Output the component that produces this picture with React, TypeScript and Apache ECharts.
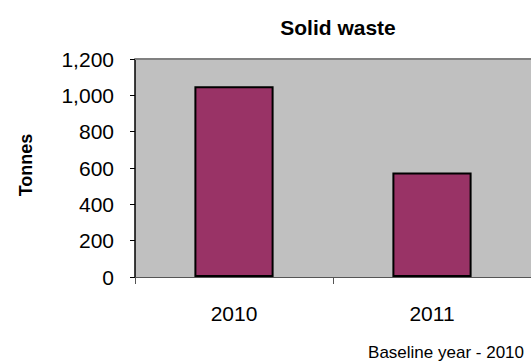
import React, { useEffect, useRef } from "react";
import * as echarts from "echarts";

const categories = ["2010", "2011"];
const values = [1050, 575];
const yTicks = { min: 0, max: 1200, interval: 200 };
const titleText = "Solid waste";
const yName = "Tonnes";
const footnote = "Baseline year - 2010";

const FONT = "'Liberation Sans', Arial, sans-serif";

export default function App() {
  const ref = useRef<HTMLDivElement>(null);
  useEffect(() => {
    if (!ref.current) return;
    const chart = echarts.init(ref.current, null, { renderer: "svg" });
    chart.setOption({
      animation: false,
      backgroundColor: "#ffffff",
      title: {
        text: titleText,
        left: 333,
        top: 12,
        textAlign: "center",
        textStyle: { fontFamily: FONT, fontWeight: "bold", fontSize: 21, color: "#000" },
      },
      grid: { left: 135, right: 0, top: 59, bottom: 85, show: true, backgroundColor: "#c0c0c0", borderWidth: 0 },
      xAxis: {
        type: "category",
        data: categories,
        axisLine: { show: true, lineStyle: { color: "#555555", width: 1 } },
        axisTick: { show: true, length: 7, lineStyle: { color: "#555555" } },
        axisLabel: { margin: 26, fontFamily: FONT, fontSize: 21, color: "#000" },
        splitLine: { show: false },
      },
      yAxis: {
        type: "value",
        min: yTicks.min,
        max: yTicks.max,
        interval: yTicks.interval,
        axisLine: { show: true, lineStyle: { color: "#000000", width: 1.5 } },
        axisTick: { show: true, length: 5, lineStyle: { color: "#000" } },
        axisLabel: {
          margin: 21,
          fontFamily: FONT,
          fontSize: 21,
          color: "#000",
          formatter: (v: number) => v.toLocaleString("en-US"),
        },
        splitLine: { show: false },
      },
      graphic: [
        {
          type: "line",
          shape: { x1: 135, y1: 59, x2: 531, y2: 59 },
          style: { stroke: "#808080", lineWidth: 2 },
          z: 10,
        },
        {
          type: "text",
          x: 26,
          y: 165,
          rotation: Math.PI / 2,
          style: {
            text: yName,
            fontFamily: FONT,
            fontWeight: "bold",
            fontSize: 18,
            fill: "#000",
            textAlign: "center",
            textVerticalAlign: "middle",
          },
        },
        {
          type: "text",
          x: 524,
          y: 352,
          style: {
            text: footnote,
            fontFamily: FONT,
            fontSize: 17,
            fill: "#000",
            textAlign: "right",
            textVerticalAlign: "middle",
          },
        },
      ],
      series: [
        {
          type: "bar",
          data: values,
          barWidth: "40%",
          itemStyle: { color: "#993366", borderColor: "#000000", borderWidth: 2 },
        },
      ],
    });
    return () => chart.dispose();
  }, []);
  return <div ref={ref} style={{ width: 531, height: 362, position: "absolute", left: 0, top: 0 }} />;
}
